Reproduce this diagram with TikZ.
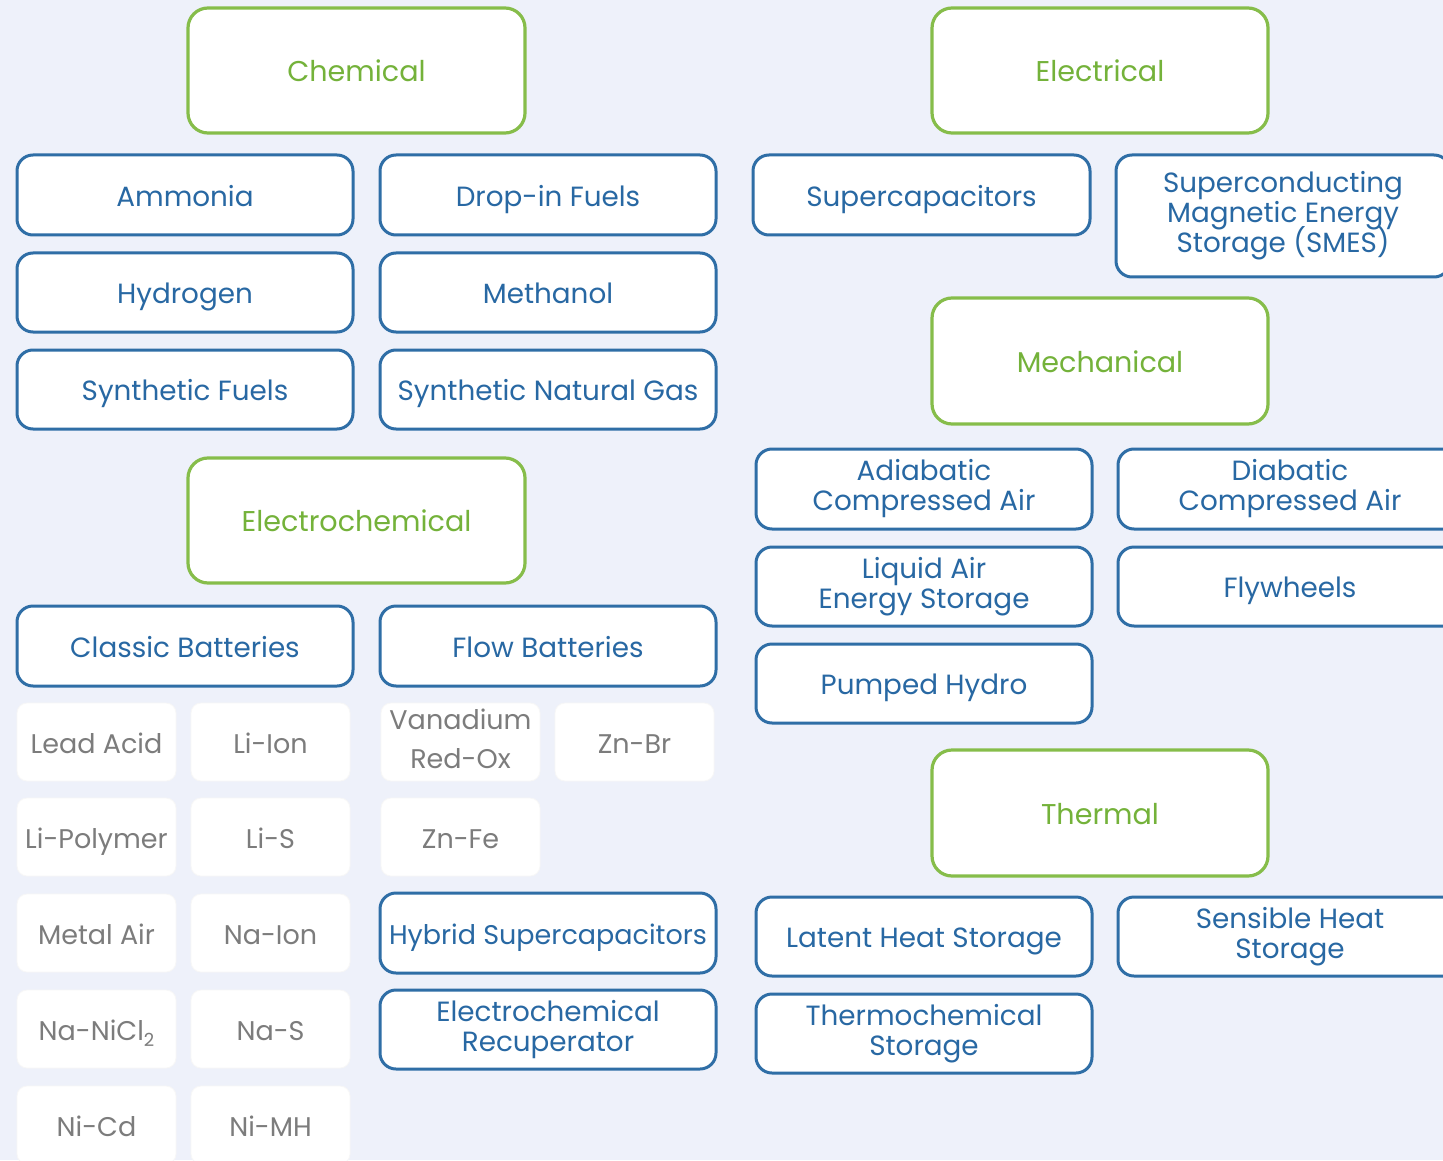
\documentclass[tikz,border=0pt]{standalone}
\usepackage{fontspec}
\setmainfont{Poppins}
\definecolor{bg}{HTML}{EEF1FA}
\definecolor{grn}{HTML}{86BD4A}
\definecolor{grntxt}{HTML}{74B23A}
\definecolor{blu}{HTML}{2F6EA6}
\definecolor{blutxt}{HTML}{2868A3}
\definecolor{gry}{HTML}{7C7C7C}
\newcommand\tstrut{\rule[-3.6pt]{0pt}{18.4pt}}
\newcommand\nodestart{\lineskiplimit=-20pt\relax\tstrut}
\tikzset{
  catbox/.style={draw=grn, line width=1.6pt, fill=white, rounded corners=10pt, text=grntxt, font=\fontsize{14.3}{15}\selectfont, align=center, inner sep=0pt,
    execute at begin node=\nodestart, execute at end node=\tstrut},
  techbox/.style={draw=blu, line width=1.5pt, fill=white, rounded corners=8pt, text=blutxt, font=\fontsize{13.9}{15}\selectfont, align=center, inner sep=0pt,
    execute at begin node=\nodestart, execute at end node=\tstrut},
  subbox/.style={draw=white!94!gray, line width=0.4pt, fill=white, rounded corners=5pt, text=gry, font=\fontsize{13.5}{19.5}\selectfont, align=center, inner sep=0pt,
    execute at begin node=\nodestart, execute at end node=\tstrut},
}
\newcommand\bx[7]{%
  \pgfmathsetmacro\bw{(#5-#3)*0.5}%
  \pgfmathsetmacro\bh{(#6-#4)*0.5}%
  \node[#1, minimum width=\bw pt, minimum height=\bh pt] (#2) at ({(#3+#5)/2},{(#4+#6)/2}) {#7};}
\begin{document}
\begin{tikzpicture}[x=0.5pt,y=-0.5pt]
\fill[bg] (0,0) rectangle (1443,1160);
\useasboundingbox (0,0) rectangle (1443,1160);
\clip (0,0) rectangle (1443,1160);
% categories
\bx{catbox}{chem}{188}{8}{525}{133}{Chemical}
\bx{catbox}{elec}{932}{8}{1268}{133}{Electrical}
\bx{catbox}{mech}{932}{298}{1268}{424}{Mechanical}
\bx{catbox}{echem}{188}{458}{525}{583}{Electrochemical}
\bx{catbox}{therm}{932}{750}{1268}{876}{Thermal}
% chemical
\bx{techbox}{ammonia}{17}{155}{353}{235}{Ammonia}
\bx{techbox}{dropin}{380}{155}{716}{235}{Drop-in Fuels}
\bx{techbox}{hydrogen}{17}{253}{353}{332}{Hydrogen}
\bx{techbox}{methanol}{380}{253}{716}{332}{Methanol}
\bx{techbox}{synfuel}{17}{350}{353}{429}{Synthetic Fuels}
\bx{techbox}{sng}{380}{350}{716}{429}{Synthetic Natural Gas}
% electrochemical
\bx{techbox}{classic}{17}{606}{353}{686}{Classic Batteries}
\bx{techbox}{flow}{380}{606}{716}{686}{Flow Batteries}
\bx{techbox}{hybrid}{380}{893}{716}{973}{\fontsize{13.5}{15}\selectfont Hybrid Supercapacitors}
\bx{techbox}{recup}{380}{990}{716}{1069}{Electrochemical\\Recuperator}
\bx{subbox}{leadacid}{17}{703}{176}{781}{Lead Acid}
\bx{subbox}{liion}{191}{703}{350}{781}{Li-Ion}
\bx{subbox}{lipoly}{17}{798}{176}{876}{Li-Polymer}
\bx{subbox}{lis}{191}{798}{350}{876}{Li-S}
\bx{subbox}{metalair}{17}{894}{176}{972}{Metal Air}
\bx{subbox}{naion}{191}{894}{350}{972}{Na-Ion}
\bx{subbox}{nanicl}{17}{990}{176}{1068}{Na-NiCl\raisebox{-0.45ex}{\fontsize{9}{9}\selectfont 2}}
\bx{subbox}{nas}{191}{990}{350}{1068}{Na-S}
\bx{subbox}{nicd}{17}{1086}{176}{1164}{Ni-Cd}
\bx{subbox}{nimh}{191}{1086}{350}{1164}{Ni-MH}
\bx{subbox}{vanadium}{381}{703}{540}{781}{Vanadium\\Red-Ox}
\bx{subbox}{znbr}{555}{703}{714}{781}{Zn-Br}
\bx{subbox}{znfe}{381}{798}{540}{876}{Zn-Fe}
% electrical
\bx{techbox}{supercap}{753}{155}{1090}{235}{Supercapacitors}
\bx{techbox}{smes}{1116}{155}{1450}{277}{Superconducting\\Magnetic Energy\\Storage (SMES)}
% mechanical
\bx{techbox}{adiabatic}{756}{449}{1092}{529}{Adiabatic\\Compressed Air}
\bx{techbox}{diabatic}{1118}{449}{1462}{529}{Diabatic\\Compressed Air}
\bx{techbox}{liquidair}{756}{547}{1092}{626}{Liquid Air\\Energy Storage}
\bx{techbox}{flywheels}{1118}{547}{1462}{626}{Flywheels}
\bx{techbox}{pumped}{756}{644}{1092}{723}{Pumped Hydro}
% thermal
\bx{techbox}{latent}{756}{897}{1092}{976}{Latent Heat Storage}
\bx{techbox}{sensible}{1118}{897}{1462}{976}{Sensible Heat\\Storage}
\bx{techbox}{thermochem}{756}{994}{1092}{1073}{Thermochemical\\Storage}
\end{tikzpicture}
\end{document}
